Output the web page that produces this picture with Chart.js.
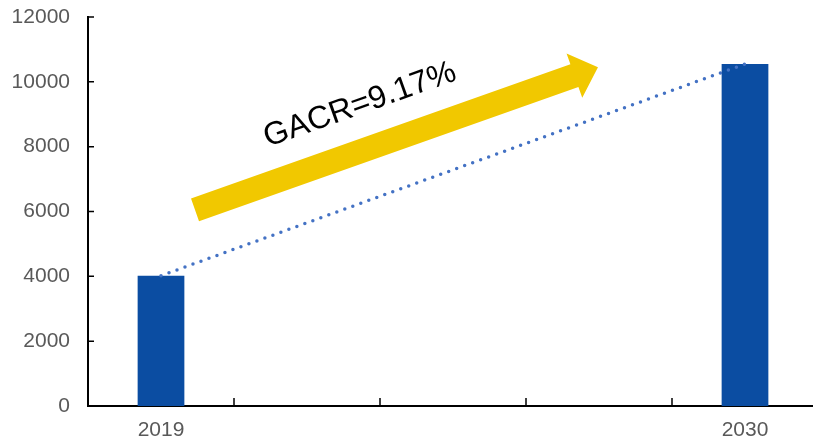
<html>
<head>
  <script src="https://cdn.jsdelivr.net/npm/chart.js@4.4.1/dist/chart.umd.min.js"></script>
  <style>
    body { margin: 0; overflow: hidden; background: #fff; }
  </style>
</head>
<body>
  <canvas id="chart" width="818" height="441"></canvas>
  <script>
    // categories: only first and last carry a label
    const years = ['2019', '', '', '', '2030'];
    const marketSize = [4020, null, null, null, 10550];
    const trendLine = [4020, null, null, null, 10550];
    const yTicks = [0, 2000, 4000, 6000, 8000, 10000, 12000];
    const growthLabel = 'GACR=9.17%';

    // arrow + label annotation, anchored in data units (category index, value)
    const arrowFrom = { x: 0.233, y: 6050 };
    const arrowTo = { x: 2.993, y: 10450 };
    const labelAt = { x: 1.363, y: 9285 };

    const tickFont = { family: 'Liberation Sans, Arial, sans-serif', size: 21 };

    const decorPlugin = {
      id: 'decor',
      afterDatasetsDraw(chart) {
        const ctx = chart.ctx;
        const xs = chart.scales.x, ys = chart.scales.y;
        const area = chart.chartArea;

        // inside tick marks
        ctx.save();
        ctx.strokeStyle = '#000';
        ctx.lineWidth = 1.5;
        ctx.beginPath();
        for (let i = 0; i < years.length - 1; i++) {
          const px = (xs.getPixelForValue(i) + xs.getPixelForValue(i + 1)) / 2;
          ctx.moveTo(px, area.bottom);
          ctx.lineTo(px, area.bottom - 8);
        }
        yTicks.forEach(v => {
          const py = ys.getPixelForValue(v);
          ctx.moveTo(area.left, py);
          ctx.lineTo(area.left + 6, py);
        });
        ctx.stroke();

        // yellow arrow
        const x1 = xs.getPixelForValue(arrowFrom.x), y1 = ys.getPixelForValue(arrowFrom.y);
        const x2 = xs.getPixelForValue(arrowTo.x), y2 = ys.getPixelForValue(arrowTo.y);
        const ang = Math.atan2(y2 - y1, x2 - x1);
        const len = Math.hypot(x2 - x1, y2 - y1);
        const shaft = 24, headW = 47, headL = 25;
        ctx.translate(x1, y1);
        ctx.rotate(ang);
        ctx.fillStyle = '#F1C800';
        ctx.beginPath();
        ctx.moveTo(0, -shaft / 2);
        ctx.lineTo(len - headL, -shaft / 2);
        ctx.lineTo(len - headL, -headW / 2);
        ctx.lineTo(len, 0);
        ctx.lineTo(len - headL, headW / 2);
        ctx.lineTo(len - headL, shaft / 2);
        ctx.lineTo(0, shaft / 2);
        ctx.closePath();
        ctx.fill();
        ctx.restore();

        // rotated label
        ctx.save();
        ctx.translate(xs.getPixelForValue(labelAt.x), ys.getPixelForValue(labelAt.y));
        ctx.rotate(ang);
        ctx.fillStyle = '#000';
        ctx.font = '32px "Liberation Sans", Arial, sans-serif';
        ctx.textAlign = 'center';
        ctx.textBaseline = 'middle';
        ctx.fillText(growthLabel, 0, 0);
        ctx.restore();
      }
    };

    const ctx = document.getElementById('chart').getContext('2d');
    new Chart(ctx, {
      type: 'bar',
      data: {
        labels: years,
        datasets: [{
          type: 'line',
          data: trendLine,
          spanGaps: true,
          borderColor: '#4472C4',
          borderWidth: 3.5,
          borderDash: [0, 8.5],
          borderCapStyle: 'round',
          pointRadius: 0,
          fill: false,
          order: 0
        }, {
          data: marketSize,
          backgroundColor: '#0B4DA2',
          categoryPercentage: 1,
          barPercentage: 0.32,
          order: 1
        }]
      },
      options: {
        responsive: false,
        animation: false,
        layout: { padding: { top: 17, right: 0, left: 0, bottom: 0 } },
        plugins: { legend: { display: false }, tooltip: { enabled: false } },
        scales: {
          x: {
            grid: { display: false, drawTicks: false },
            border: { color: '#000', width: 2 },
            ticks: { color: '#595959', font: tickFont, padding: 12, maxRotation: 0, autoSkip: false },
            afterFit(scale) { scale.height = 35; scale.paddingLeft = 0; scale.paddingRight = 0; }
          },
          y: {
            min: 0,
            max: 12000,
            grid: { display: false, drawTicks: false },
            border: { color: '#000', width: 2 },
            ticks: {
              color: '#595959', font: tickFont, padding: 18, stepSize: 2000,
              callback: v => String(v)
            },
            afterFit(scale) { scale.width = 88; scale.paddingTop = 0; scale.paddingBottom = 0; }
          }
        }
      },
      plugins: [decorPlugin]
    });
  </script>
</body>
</html>
